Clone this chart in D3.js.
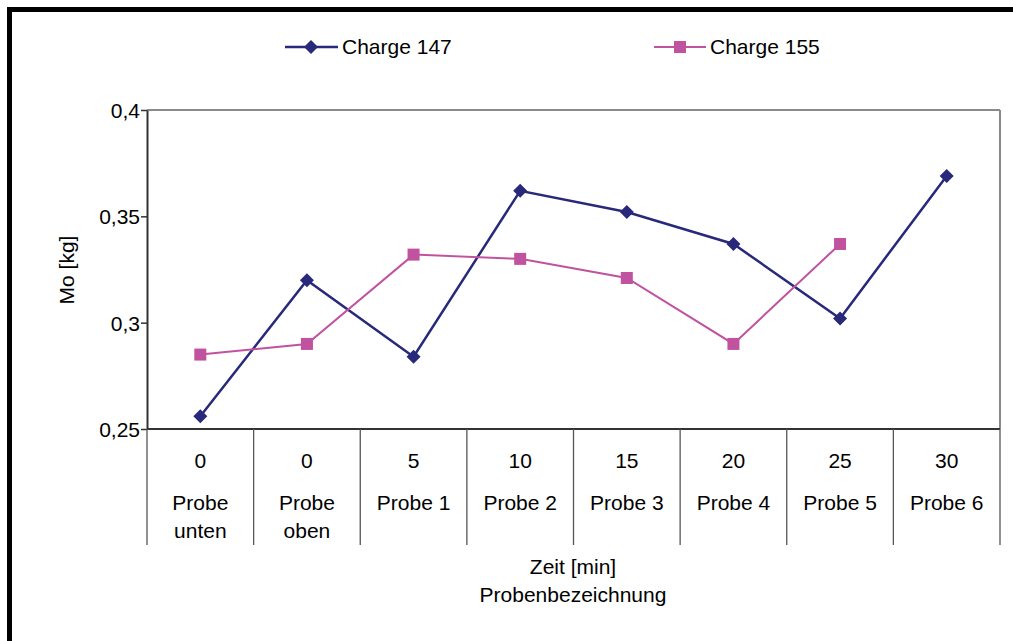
<!DOCTYPE html>
<html><head><meta charset="utf-8">
<script src="https://cdn.jsdelivr.net/npm/d3@7"></script>
<style>body{margin:0;background:#fff}svg{display:block}text{font-family:"Liberation Sans",Arial,sans-serif;fill:#000}</style>
</head><body><svg id="c" width="1013" height="641"></svg>
<script>
const zeiten = ["0","0","5","10","15","20","25","30"];
const proben = [["Probe","unten"],["Probe","oben"],["Probe 1"],["Probe 2"],["Probe 3"],["Probe 4"],["Probe 5"],["Probe 6"]];
const charge147 = [0.256,0.320,0.284,0.362,0.352,0.337,0.302,0.369];
const charge155 = [0.285,0.290,0.332,0.330,0.321,0.290,0.337,null];
const yTicks = [0.25,0.3,0.35,0.4];
const seriesNames = ["Charge 147","Charge 155"];

const FS = 21;
const svg = d3.select("#c");
const L=147,R=1000,T=110,B=429;
const idx = d3.range(zeiten.length);
const x = d3.scaleBand().domain(idx).range([L,R]);
const y = d3.scaleLinear().domain([0.25,0.4]).range([B,T]);
const c1="#28297A", c2="#C052A0";

// outer frame
svg.append("rect").attr("x",9.5).attr("y",9.5).attr("width",1100).attr("height",800)
  .attr("fill","none").attr("stroke","#000").attr("stroke-width",5);

// plot frame (top/right gray)
svg.append("line").attr("x1",L).attr("x2",R).attr("y1",T).attr("y2",T).attr("stroke","#8a8a8a").attr("stroke-width",2);
svg.append("line").attr("x1",R).attr("x2",R).attr("y1",T).attr("y2",B).attr("stroke","#8a8a8a").attr("stroke-width",2);

// y axis
const fmt = d => String(d).replace(".",",");
const ya = svg.append("g").attr("transform",`translate(${L},0)`)
  .call(d3.axisLeft(y).tickValues(yTicks).tickSize(6).tickSizeOuter(0).tickFormat(fmt));
ya.select(".domain").attr("stroke","#333").attr("stroke-width",2);
ya.selectAll(".tick line").attr("stroke","#333").attr("stroke-width",1.5);
ya.selectAll(".tick text").attr("font-size",FS).attr("x",-7).attr("dy","0.35em").style("font-family","Liberation Sans, Arial, sans-serif").attr("fill","#000");

// x axis with category dividers
svg.append("line").attr("x1",L).attr("x2",R).attr("y1",B).attr("y2",B).attr("stroke","#333").attr("stroke-width",2);
const bounds = idx.map(i=>x(i)).concat([R]);
svg.selectAll(".div").data(bounds).enter().append("line")
  .attr("x1",d=>d).attr("x2",d=>d).attr("y1",B).attr("y2",545).attr("stroke","#555").attr("stroke-width",1.3);
svg.selectAll(".zt").data(idx).enter().append("text")
  .attr("x",i=>x(i)+x.bandwidth()/2).attr("y",468).attr("text-anchor","middle").attr("font-size",FS).text(i=>zeiten[i]);
idx.forEach(i=>{
  proben[i].forEach((s,k)=>{
    svg.append("text").attr("x",x(i)+x.bandwidth()/2).attr("y",510+k*28).attr("text-anchor","middle").attr("font-size",FS).text(s);
  });
});
svg.append("text").attr("x",573).attr("y",574).attr("text-anchor","middle").attr("font-size",FS).text("Zeit [min]");
svg.append("text").attr("x",573).attr("y",602).attr("text-anchor","middle").attr("font-size",FS).text("Probenbezeichnung");
svg.append("text").attr("transform","translate(74,270) rotate(-90)").attr("text-anchor","middle").attr("font-size",FS).text("Mo [kg]");

// lines
const cx = i=>x(i)+x.bandwidth()/2;
const line = d3.line().defined(d=>d.v!=null).x(d=>cx(d.i)).y(d=>y(d.v));
const diamond = (g,px,py)=>g.append("path").attr("d",`M${px},${py-7}L${px+7},${py}L${px},${py+7}L${px-7},${py}Z`).attr("fill",c1);
const square = (g,px,py)=>g.append("rect").attr("x",px-6).attr("y",py-6).attr("width",12).attr("height",12).attr("fill",c2);

const d1 = charge147.map((v,i)=>({i,v})), d2 = charge155.map((v,i)=>({i,v}));
svg.append("path").datum(d1).attr("d",line).attr("fill","none").attr("stroke",c1).attr("stroke-width",2.5);
svg.append("path").datum(d2).attr("d",line).attr("fill","none").attr("stroke",c2).attr("stroke-width",2);
const g1 = svg.append("g"), g2 = svg.append("g");
d1.filter(d=>d.v!=null).forEach(d=>diamond(g1,cx(d.i),y(d.v)));
d2.filter(d=>d.v!=null).forEach(d=>square(g2,cx(d.i),y(d.v)));

// legend
const lg = svg.append("g");
lg.append("line").attr("x1",285).attr("x2",338).attr("y1",47).attr("y2",47).attr("stroke",c1).attr("stroke-width",2.5);
diamond(lg,311,47);
lg.append("text").attr("x",342).attr("y",54).attr("font-size",FS).text(seriesNames[0]);
lg.append("line").attr("x1",654).attr("x2",706).attr("y1",47).attr("y2",47).attr("stroke",c2).attr("stroke-width",2);
square(lg,680,47);
lg.append("text").attr("x",710).attr("y",54).attr("font-size",FS).text(seriesNames[1]);
</script></body></html>
